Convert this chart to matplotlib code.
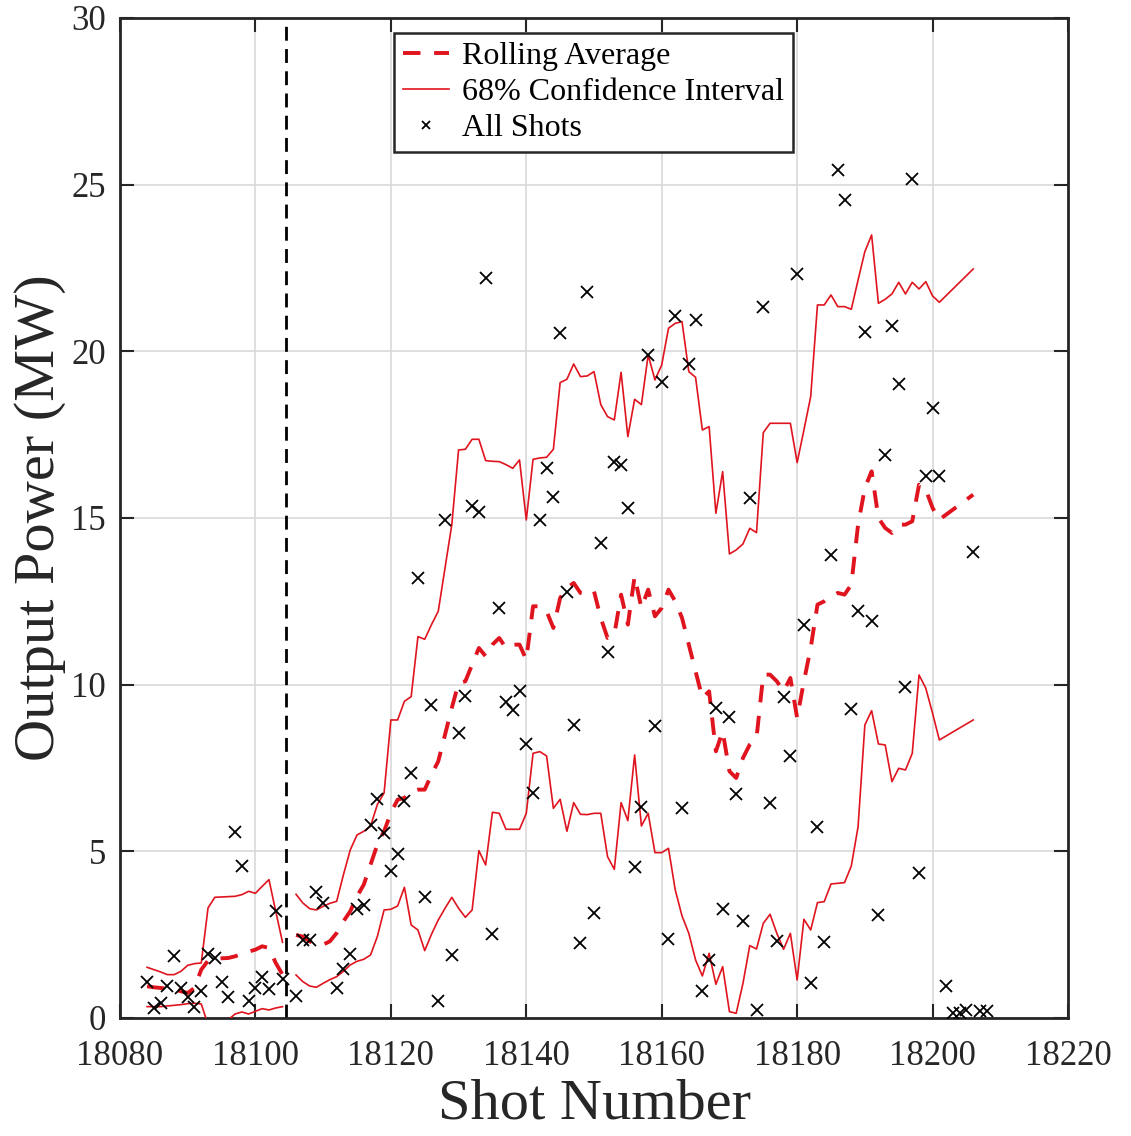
import numpy as np
import matplotlib
matplotlib.use("Agg")
import matplotlib.pyplot as plt

plt.rcParams['font.family'] = ['Liberation Serif', 'DejaVu Serif']
plt.rcParams['mathtext.fontset'] = 'stix'

nan = np.nan

# ---- scatter data: all shots ----
shot_x = [18084, 18085, 18086, 18087, 18088, 18089, 18090, 18091, 18092, 18093,
          18094, 18095, 18096, 18097, 18098, 18099, 18100, 18101, 18102, 18103,
          18104, 18106, 18107, 18108, 18109, 18110, 18112, 18113, 18114, 18115,
          18116, 18117, 18118, 18119, 18120, 18121, 18122, 18123, 18124, 18125,
          18126, 18127, 18128, 18129, 18130, 18131, 18132, 18133, 18134, 18135,
          18136, 18137, 18138, 18139, 18140, 18141, 18142, 18143, 18144, 18145,
          18146, 18147, 18148, 18149, 18150, 18151, 18152, 18153, 18154, 18155,
          18156, 18157, 18158, 18159, 18160, 18161, 18162, 18163, 18164, 18165,
          18166, 18167, 18168, 18169, 18170, 18171, 18172, 18173, 18174, 18175,
          18176, 18177, 18178, 18179, 18180, 18181, 18182, 18183, 18184, 18185,
          18186, 18187, 18188, 18189, 18190, 18191, 18192, 18193, 18194, 18195,
          18196, 18197, 18198, 18199, 18200, 18201, 18202, 18203, 18204, 18205,
          18206, 18207, 18208]
shot_power = [1.09, 0.29, 0.44, 0.96, 1.86, 0.90, 0.64, 0.34, 0.82, 1.92,
              1.79, 1.09, 0.62, 5.57, 4.56, 0.51, 0.89, 1.22, 0.86, 3.21,
              1.16, 0.66, 2.34, 2.34, 3.79, 3.44, 0.89, 1.46, 1.92, 3.26,
              3.39, 5.79, 6.57, 5.56, 4.42, 4.92, 6.52, 7.36, 13.19, 3.62,
              9.39, 0.51, 14.94, 1.89, 8.56, 9.66, 15.36, 15.19, 22.19, 2.51,
              12.31, 9.49, 9.24, 9.82, 8.21, 6.76, 14.94, 16.49, 15.62, 20.56,
              12.77, 8.79, 2.24, 21.79, 3.14, 14.26, 10.99, 16.69, 16.59, 15.29,
              4.52, 6.32, 19.89, 8.77, 19.09, 2.36, 21.06, 6.29, 19.62, 20.94,
              0.81, 1.74, 9.31, 3.27, 9.02, 6.71, 2.91, 15.61, 0.24, 21.32,
              6.46, 2.31, 9.62, 7.87, 22.32, 11.79, 1.04, 5.74, 2.27, 13.89,
              25.44, 24.55, 9.27, 12.21, 20.57, 11.92, 3.09, 16.89, 20.76, 19.01,
              9.92, 25.17, 4.34, 16.26, 18.29, 16.26, 0.97, 0.15, 0.14, 0.24,
              13.99, 0.20, 0.20]

# ---- rolling statistics (NaN marks the break in the series) ----
line_x = list(range(18084, 18202)) + [18206]

ci_upper = [1.52, 1.45, 1.38, 1.30, 1.30, 1.40, 1.58, 1.63, 1.65, 3.30,
            3.62, 3.63, 3.64, 3.65, 3.70, 3.80, 3.74, 3.95, 4.15, 3.20,
            2.27, nan, 3.71, 3.45, 3.28, 3.24, 3.35, 3.44, 3.50, 4.30,
            5.04, 5.49, 5.60, 5.75, 6.40, 6.75, 8.94, 8.94, 9.50, 9.64,
            11.44, 11.36, 11.80, 12.20, 13.50, 14.80, 17.04, 17.06, 17.36, 17.36,
            16.72, 16.70, 16.69, 16.60, 16.49, 16.74, 14.94, 16.76, 16.80, 16.82,
            17.06, 19.06, 19.16, 19.62, 19.24, 19.26, 19.39, 18.40, 18.04, 17.94,
            19.37, 17.44, 18.56, 18.40, 19.89, 19.14, 19.59, 20.69, 20.84, 20.89,
            19.39, 19.22, 17.64, 17.74, 15.14, 16.39, 13.92, 14.04, 14.22, 14.69,
            14.56, 17.56, 17.84, 17.84, 17.84, 17.84, 16.66, 17.64, 18.64, 21.39,
            21.39, 21.69, 21.34, 21.34, 21.26, 22.14, 22.99, 23.49, 21.44, 21.56,
            21.72, 22.07, 21.72, 22.07, 21.87, 22.09, 21.66, 21.47, 22.47]

rolling_avg = [0.95, 0.92, 0.90, 0.88, 0.86, 0.80, 0.75, 0.90, 1.45, 1.72,
               1.78, 1.79, 1.80, 1.85, 1.92, 1.99, 2.05, 2.15, 2.10, 1.65,
               1.30, nan, 2.49, 2.44, 2.30, 2.20, 2.20, 2.30, 2.55, 2.90,
               3.20, 3.65, 4.00, 4.60, 5.20, 5.60, 6.15, 6.55, 6.60, 6.80,
               6.85, 6.85, 7.30, 7.70, 8.50, 9.30, 10.05, 10.10, 10.60, 11.10,
               10.85, 11.20, 11.40, 11.10, 11.20, 11.20, 10.75, 12.35, 12.35, 12.20,
               11.70, 12.60, 12.90, 13.05, 12.75, 12.70, 12.80, 12.00, 11.40, 11.50,
               12.70, 11.80, 13.25, 12.30, 12.85, 12.05, 12.30, 12.85, 12.50, 12.00,
               11.20, 10.40, 9.60, 9.80, 8.00, 8.60, 7.40, 7.20, 7.80, 8.20,
               8.40, 10.30, 10.30, 10.10, 9.80, 10.20, 9.00, 10.10, 11.10, 12.40,
               12.50, 12.65, 12.75, 12.70, 13.00, 14.80, 15.90, 16.40, 15.00, 14.70,
               14.55, 14.80, 14.80, 14.90, 16.00, 15.85, 15.30, 14.95, 15.70]

ci_lower = [0.34, 0.34, 0.34, 0.36, 0.38, 0.40, 0.43, 0.44, 0.42, -0.20,
            -0.50, -0.30, -0.05, 0.12, 0.18, 0.12, 0.20, 0.28, 0.24, 0.30,
            0.34, nan, 1.29, 1.09, 0.96, 0.92, 1.04, 1.15, 1.24, 1.40,
            1.59, 1.70, 1.76, 1.89, 2.44, 3.24, 3.26, 3.36, 3.92, 2.79,
            2.64, 2.02, 2.51, 2.94, 3.29, 3.62, 3.29, 3.02, 3.24, 5.02,
            4.59, 6.17, 6.14, 5.66, 5.66, 5.66, 6.14, 7.94, 7.99, 7.86,
            6.29, 6.56, 5.60, 6.46, 6.11, 6.10, 6.14, 6.14, 4.84, 4.46,
            6.46, 5.92, 7.89, 5.76, 6.14, 4.96, 4.96, 5.09, 3.84, 3.06,
            2.54, 1.74, 1.26, 1.94, 1.01, 1.54, 0.19, 0.14, 1.04, 2.17,
            2.07, 2.84, 3.11, 2.54, 2.06, 2.54, 1.14, 2.96, 2.64, 3.46,
            3.49, 4.02, 4.04, 4.06, 4.56, 5.74, 8.79, 9.22, 8.22, 8.19,
            7.09, 7.49, 7.44, 7.94, 10.29, 9.89, 9.14, 8.34, 8.94]

marker_shot = 18104.5

x_ticks = [18080, 18100, 18120, 18140, 18160, 18180, 18200, 18220]
y_ticks = [0, 5, 10, 15, 20, 25, 30]

# ---- figure ----
fig = plt.figure(figsize=(11.31, 11.36), dpi=100)
ax = fig.add_axes([0.1061, 0.1039, 0.8382, 0.8803])

red = '#e0141e'
ax.plot(line_x, rolling_avg, color=red, lw=2.8, ls=(0, (4.5, 3.5)),
        label='Rolling Average', zorder=3)
ax.plot(line_x, ci_upper, color=red, lw=1.2, label='68% Confidence Interval', zorder=3)
ax.plot(line_x, ci_lower, color=red, lw=1.2, zorder=3)
ax.plot(shot_x, shot_power, ls='none', marker='x', color='black', ms=9, mew=1.3,
        label='All Shots', zorder=4)
ax.axvline(marker_shot, color='black', lw=2.0, ls=(0, (5, 3)), zorder=2)

ax.set_xlim(18080, 18220)
ax.set_ylim(0, 30)
ax.set_xticks(x_ticks)
ax.set_yticks(y_ticks)
ax.grid(True, color='#d9d9d9', lw=1.2)
ax.set_axisbelow(True)
ax.tick_params(direction='in', length=10, width=1.5, top=True, right=True,
               labelsize=25, colors='#262626')
ax.tick_params(axis='x', pad=16)
ax.tick_params(axis='y', pad=10)
for s in ax.spines.values():
    s.set_linewidth(2.0)
    s.set_color('#262626')

ax.set_xlabel('Shot Number', fontsize=42, color='#262626', labelpad=4)
ax.set_ylabel('Output Power (MW)', fontsize=42, color='#262626', labelpad=4)

leg = ax.legend(loc='upper left', bbox_to_anchor=(0.289, 0.985), borderaxespad=0,
                fontsize=23, frameon=True, fancybox=False, framealpha=1,
                edgecolor='#262626', handlelength=1.45, handletextpad=0.4,
                labelspacing=0.2, borderpad=0.28, markerscale=0.7)
leg.get_frame().set_linewidth(1.8)

fig.savefig('out.png', dpi=100)
